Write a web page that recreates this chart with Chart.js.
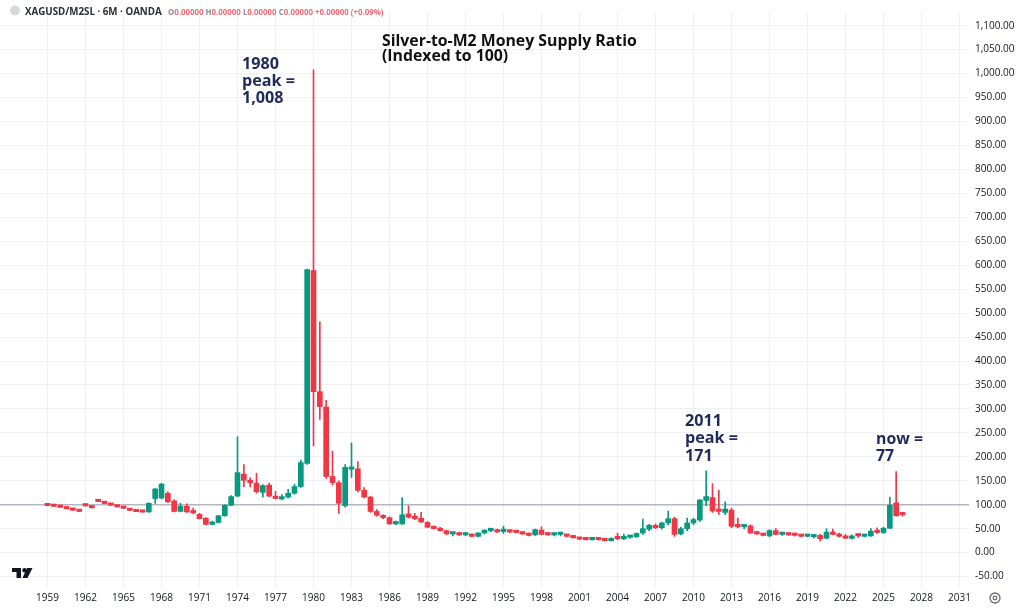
<!DOCTYPE html>
<html>
<head>
<meta charset="utf-8">
<script src="https://cdn.jsdelivr.net/npm/chart.js@4.4.1/dist/chart.umd.min.js"></script>
<style>
  html, body { margin: 0; padding: 0; background: #fff; }
  #wrap { position: relative; width: 1024px; height: 609px; }
</style>
</head>
<body>
<div id="wrap"><canvas id="ratioChart"></canvas></div>
<script>
// Chandeliers semestriels (6M), le premier = 1959 S1, le dernier = 2026 S2
const firstYear = 1959;

const opens = [
  101, 99.5, 97.5, 94.5, 91.5, 89, 100.5, 96.5, 109.5, 105.5,   // 1959-1963
  102, 98.5, 95.5, 91, 88.5, 87.5, 85, 113, 114, 124,           // 1964-1968
  108, 86, 97, 87, 80, 72, 59, 63, 77, 99,                      // 1969-1973
  118, 164, 151, 145, 126, 141, 118, 112, 116, 124,             // 1974-1978
  138, 186, 589, 336, 304, 159, 146, 98, 174, 175,              // 1979-1983
  130, 116, 86, 77, 73, 60, 60, 81, 75, 72,                     // 1984-1988
  63, 54, 51, 46, 39, 41, 37, 38, 34, 41,                       // 1989-1993
  46, 48, 44, 45, 43, 42, 40, 37, 47, 40,                       // 1994-1998
  37, 38, 38, 33, 30, 28, 27, 28, 27, 25,                       // 1999-2003
  32, 29, 32, 33, 41, 49, 57, 52, 62, 71,                       // 2004-2008
  39, 50, 62, 68, 109, 115, 89, 84, 89, 56,                     // 2009-2013
  54, 56, 42, 39, 35, 46, 38, 38, 37, 36,                       // 2014-2018
  34, 33, 36, 30, 43, 39, 35, 30, 36, 34,                       // 2019-2023
  35, 46, 42, 51, 104, 81                                       // 2024-2026
];
const highs = [
  101.3, 99.8, 97.8, 94.8, 91.8, 89.3, 100.8, 96.8, 109.8, 105.8,
  102.3, 98.8, 95.8, 91.3, 88.8, 87.8, 104, 134, 145, 127,
  110, 103, 102, 93, 82, 73, 66, 78, 100, 119,
  242, 184, 156, 166, 142, 145, 128, 121, 132, 143,
  193, 592, 1008, 482, 318, 212, 150, 184, 229, 190,
  136, 118, 90, 79, 75, 66, 115, 98, 82, 84,
  65, 56, 53, 47, 41, 42, 39, 39, 42, 48,
  49, 49, 55, 48, 46, 43, 41, 49, 54, 42,
  40, 40, 39, 34, 31, 29, 29, 29, 28, 31,
  41, 39, 35, 41, 70, 59, 60, 64, 87, 74,
  53, 72, 72, 111, 171, 144, 130, 106, 93, 72,
  58, 58, 44, 40, 48, 50, 41, 39, 38, 37,
  36, 38, 38, 50, 49, 41, 38, 37, 39, 36,
  50, 52, 53, 116, 169, 84
];
const lows = [
  97.7, 96.3, 94.3, 91.3, 88.3, 85.8, 97.3, 93.3, 106.3, 102.3,
  98.8, 95.3, 92.3, 87.8, 85.3, 84.3, 84, 103, 112, 105,
  85, 85, 84, 81, 70, 58, 58, 62, 76, 98,
  117, 137, 137, 124, 116, 117, 112, 110, 114, 122,
  136, 184, 223, 278, 155, 141, 82, 95, 157, 127,
  114, 84, 76, 71, 59, 58, 59, 72, 69, 63,
  52, 49, 45, 38, 35, 36, 35, 33, 33, 39,
  44, 42, 40, 41, 41, 38, 35, 36, 37, 36,
  35, 35, 33, 30, 27, 26, 26, 26, 24, 24,
  27, 27, 30, 32, 38, 46, 50, 49, 58, 34,
  37, 46, 58, 65, 98, 84, 80, 80, 52, 52,
  50, 40, 38, 35, 33, 37, 36, 36, 35, 33,
  33, 31, 24, 29, 37, 33, 29, 28, 32, 33,
  34, 40, 40, 50, 76, 76
];
const closes = [
  98, 96.5, 94.5, 91.5, 88.5, 86, 97.5, 93.5, 106.5, 102.5,
  99, 95.5, 92.5, 88, 85.5, 84.5, 103, 133, 143, 106,
  86, 97, 85, 83, 71, 59, 64, 77, 99, 117,
  167, 151, 146, 127, 140, 118, 113, 116, 124, 138,
  188, 591, 336, 305, 159, 146, 103, 178, 177, 130,
  116, 86, 78, 73, 60, 64, 79, 74, 71, 64,
  53, 50, 46, 39, 40, 37, 38, 34, 41, 47,
  48, 43, 45, 43, 42, 39, 36, 48, 38, 37,
  38, 39, 34, 31, 28, 27, 28, 27, 25, 30,
  29, 33, 33, 40, 50, 57, 52, 62, 71, 38,
  50, 62, 69, 110, 117, 87, 86, 91, 55, 54,
  55, 41, 39, 36, 46, 38, 39, 37, 36, 34,
  35, 37, 29, 43, 38, 34, 30, 35, 35, 35,
  45, 42, 51, 99, 77, 79
];

// Graduations
const xTickYears = [1959, 1962, 1965, 1968, 1971, 1974, 1977, 1980, 1983, 1986, 1989, 1992,
  1995, 1998, 2001, 2004, 2007, 2010, 2013, 2016, 2019, 2022, 2025, 2028, 2031];
const yTicks = [-50, 0, 50, 100, 150, 200, 250, 300, 350, 400, 450, 500, 550, 600,
  650, 700, 750, 800, 850, 900, 950, 1000, 1050, 1100];

// Fenêtre visible (en semestres) et bornes de l'axe Y
const viewStart = 1955.5;
const viewEnd = 2031.5;
const yMin = -73.8;
const yMax = 1128.6;

const upColor = '#089981';
const downColor = '#f23645';
const gridColor = '#eef0f4';
const textColor = '#131722';
const navy = '#1e2a5c';
const uiFont = "'Open Sans', 'Noto Sans', sans-serif";

const halfLabel = t => Math.floor(t) + (t % 1 ? ' H2' : ' H1');
const slots = [];
for (let t = viewStart; t <= viewEnd; t += 0.5) slots.push(halfLabel(t));

const periodOf = i => halfLabel(firstYear + i / 2);
const bodies = opens.map((o, i) => ({ x: periodOf(i), y: [o, closes[i]] }));
const wicks = lows.map((l, i) => ({ x: periodOf(i), y: [l, highs[i]] }));
const colors = opens.map((o, i) => closes[i] >= o ? upColor : downColor);

// Texte ajusté à une largeur donnée
function fontFor(ctx, text, width, weight) {
  ctx.font = `${weight} 20px ${uiFont}`;
  return 20 * width / ctx.measureText(text).width;
}

function drawNote(ctx, lines, x, baselines, refIndex, refWidth) {
  const size = fontFor(ctx, lines[refIndex], refWidth, 'bold');
  ctx.font = `bold ${size}px ${uiFont}`;
  ctx.fillStyle = navy;
  lines.forEach((l, i) => ctx.fillText(l, x, baselines[i]));
}

const overlay = {
  id: 'overlay',
  afterDraw(chart) {
    const ctx = chart.ctx;
    ctx.save();
    ctx.textAlign = 'left';
    ctx.textBaseline = 'alphabetic';

    // en-tête du symbole
    ctx.fillStyle = '#d6d8de';
    ctx.beginPath();
    ctx.arc(15, 10.5, 5, 0, Math.PI * 2);
    ctx.fill();
    const hs = fontFor(ctx, 'XAGUSD/M2SL · 6M · OANDA', 137, 'bold');
    ctx.font = `bold ${hs}px ${uiFont}`;
    ctx.fillStyle = '#2a2e39';
    ctx.fillText('XAGUSD/M2SL · 6M · OANDA', 25, 14.5);

    const parts = [['O', '#8a8d96'], ['0.00000 ', '#ef6b76'], ['H', '#8a8d96'], ['0.00000 ', '#ef6b76'],
      ['L', '#8a8d96'], ['0.00000 ', '#ef6b76'], ['C', '#8a8d96'], ['0.00000 ', '#ef6b76'],
      ['+0.00000 (+0.09%)', '#ef6b76']];
    const full = parts.map(p => p[0]).join('');
    const os = fontFor(ctx, full, 216, 'bold');
    ctx.font = `bold ${os}px ${uiFont}`;
    let px = 168;
    parts.forEach(([s, c]) => {
      ctx.fillStyle = c;
      ctx.fillText(s, px, 14.5);
      px += ctx.measureText(s).width;
    });

    // titre
    const ts = fontFor(ctx, 'Silver-to-M2 Money Supply Ratio', 255, 'bold');
    ctx.font = `bold ${ts}px ${uiFont}`;
    ctx.fillStyle = '#111111';
    ctx.fillText('Silver-to-M2 Money Supply Ratio', 382, 45.5);
    ctx.fillText('(Indexed to 100)', 382, 61);

    // annotations
    drawNote(ctx, ['1980', 'peak =', '1,008'], 242, [68.5, 85.5, 102.5], 1, 53);
    drawNote(ctx, ['2011', 'peak =', '171'], 685, [426, 443, 460.5], 1, 53);
    drawNote(ctx, ['now =', '77'], 876, [444, 461], 0, 47);

    // logo TradingView
    ctx.fillStyle = textColor;
    ctx.fillRect(12, 568, 9, 4);
    ctx.fillRect(16.5, 568, 4.5, 10);
    ctx.beginPath();
    ctx.arc(24.5, 570.2, 2.2, 0, Math.PI * 2);
    ctx.fill();
    ctx.beginPath();
    ctx.moveTo(27, 568);
    ctx.lineTo(32.5, 568);
    ctx.lineTo(27.5, 578);
    ctx.lineTo(22.5, 578);
    ctx.closePath();
    ctx.fill();

    // icône réglages
    ctx.strokeStyle = '#6a6d78';
    ctx.lineWidth = 1.3;
    ctx.beginPath();
    ctx.arc(995, 598, 5, 0, Math.PI * 2);
    ctx.stroke();
    ctx.beginPath();
    ctx.arc(995, 598, 1.8, 0, Math.PI * 2);
    ctx.stroke();
    ctx.restore();
  }
};

document.addEventListener('DOMContentLoaded', () => {
  const ctx = document.getElementById('ratioChart').getContext('2d');

  new Chart(ctx, {
    type: 'bar',
    data: {
      labels: slots,
      datasets: [
        { data: bodies, backgroundColor: colors, barThickness: 5, minBarLength: 2.4, grouped: false, borderWidth: 0 },
        { data: wicks, backgroundColor: colors, barThickness: 1, grouped: false, borderWidth: 0 }
      ]
    },
    options: {
      responsive: true,
      maintainAspectRatio: false,
      animation: false,
      layout: { padding: 0 },
      plugins: { legend: { display: false }, tooltip: { enabled: false } },
      scales: {
        x: {
          offset: true,
          border: { display: false },
          grid: { offset: false, color: gridColor, drawTicks: false },
          ticks: {
            autoSkip: false, maxRotation: 0, padding: 4, color: textColor,
            font: { family: uiFont, size: 10, weight: 500 },
            callback: v => slots[v].slice(0, 4)
          },
          afterBuildTicks: s => {
            s.ticks = s.ticks.filter(t => xTickYears.some(y => slots[t.value] === y + ' H1'));
          },
          afterFit: s => { s.height = 21; }
        },
        y: {
          position: 'right',
          min: yMin,
          max: yMax,
          border: { display: false },
          grid: {
            drawTicks: false,
            color: c => (c.tick && c.tick.value === 100) ? '#b4b7bf' : gridColor,
            lineWidth: c => (c.tick && c.tick.value === 100) ? 1.5 : 1
          },
          ticks: {
            padding: 6, color: textColor,
            font: { family: uiFont, size: 10, weight: 500 },
            callback: v => v.toLocaleString('en-US', { minimumFractionDigits: 2, maximumFractionDigits: 2 })
          },
          afterBuildTicks: s => { s.ticks = yTicks.map(v => ({ value: v })); },
          afterFit: s => { s.width = 55; }
        }
      }
    },
    plugins: [overlay]
  });
});
</script>
</body>
</html>
